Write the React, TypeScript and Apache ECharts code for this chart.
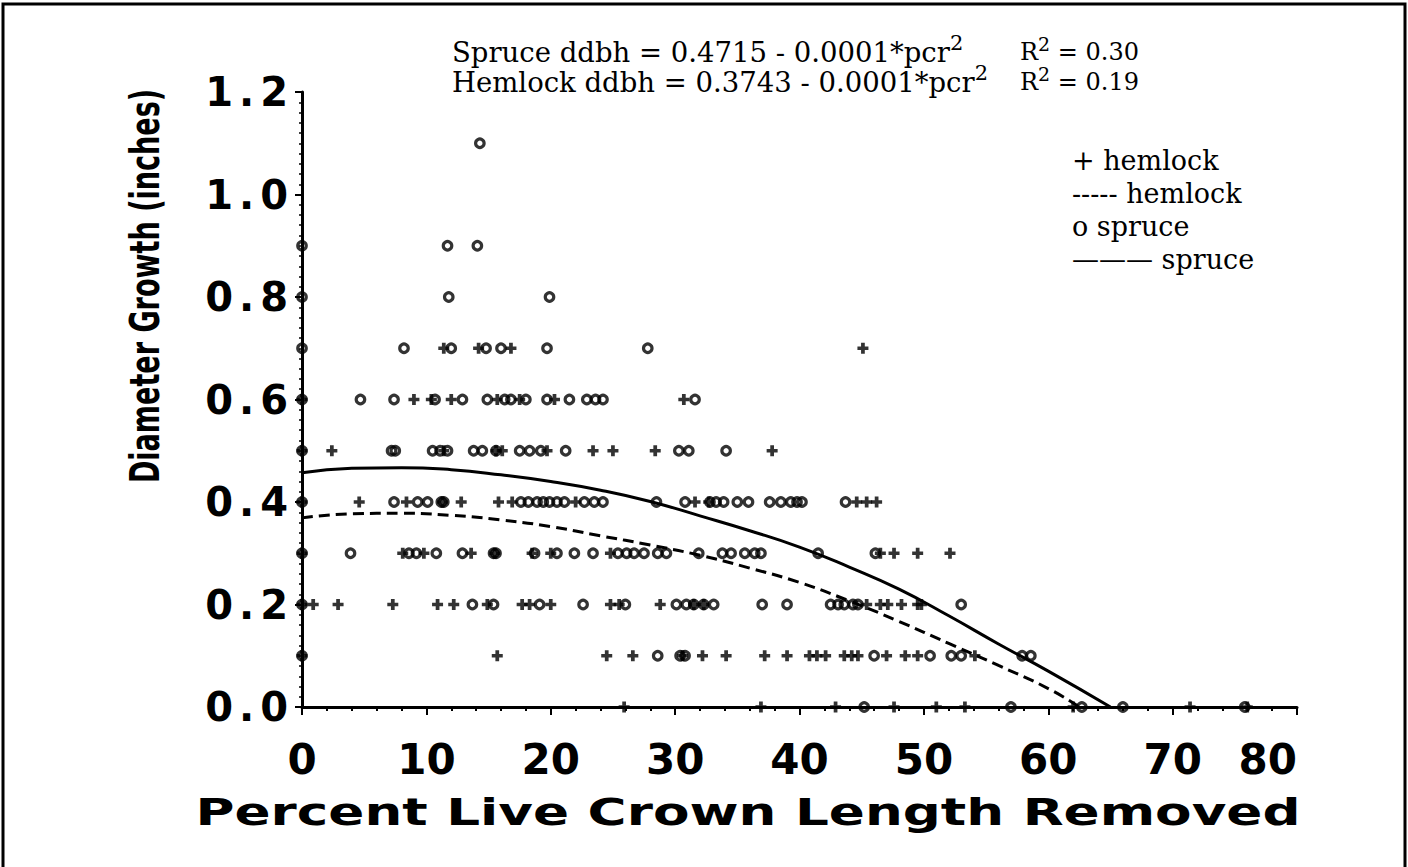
import React, { useEffect, useRef } from "react";
import * as echarts from "echarts";

// Percent live crown length removed (pcr) vs. diameter growth (inches)
const spruce: number[][] = [
  [14.3, 1.1],
  [0, 0.9], [11.7, 0.9], [14.1, 0.9],
  [0, 0.8], [11.8, 0.8], [19.9, 0.8],
  [0, 0.7], [8.2, 0.7], [12.0, 0.7], [14.8, 0.7], [16.0, 0.7], [19.7, 0.7], [27.8, 0.7],
  [0, 0.6], [4.7, 0.6], [7.4, 0.6], [10.7, 0.6], [12.9, 0.6], [14.9, 0.6], [16.3, 0.6], [16.8, 0.6],
  [18.0, 0.6], [19.7, 0.6], [21.5, 0.6], [22.9, 0.6], [23.6, 0.6], [24.2, 0.6], [31.6, 0.6],
  [0, 0.5], [7.2, 0.5], [7.5, 0.5], [10.5, 0.5], [11.1, 0.5], [11.7, 0.5], [13.8, 0.5], [14.5, 0.5],
  [15.6, 0.5], [17.5, 0.5], [18.3, 0.5], [19.2, 0.5], [21.2, 0.5], [30.3, 0.5], [31.1, 0.5], [34.1, 0.5],
  [0, 0.4], [7.4, 0.4], [9.3, 0.4], [10.1, 0.4], [11.2, 0.4], [11.4, 0.4], [17.6, 0.4], [18.2, 0.4],
  [18.9, 0.4], [19.4, 0.4], [19.9, 0.4], [20.5, 0.4], [21.1, 0.4], [22.7, 0.4], [23.5, 0.4], [24.2, 0.4],
  [28.5, 0.4], [30.8, 0.4], [32.8, 0.4], [33.3, 0.4], [33.9, 0.4], [35.0, 0.4], [35.9, 0.4], [37.6, 0.4],
  [38.5, 0.4], [39.3, 0.4], [39.8, 0.4], [40.2, 0.4], [43.7, 0.4],
  [0, 0.3], [3.9, 0.3], [8.6, 0.3], [9.2, 0.3], [10.8, 0.3], [12.9, 0.3], [15.4, 0.3], [15.6, 0.3],
  [18.7, 0.3], [20.5, 0.3], [21.9, 0.3], [23.4, 0.3], [25.4, 0.3], [26.1, 0.3], [26.7, 0.3], [27.5, 0.3],
  [28.6, 0.3], [29.3, 0.3], [31.9, 0.3], [33.8, 0.3], [34.5, 0.3], [35.6, 0.3], [36.4, 0.3], [36.9, 0.3],
  [41.5, 0.3], [46.1, 0.3],
  [0, 0.2], [13.7, 0.2], [15.4, 0.2], [19.1, 0.2], [22.6, 0.2], [26.0, 0.2], [30.1, 0.2], [30.9, 0.2],
  [31.5, 0.2], [32.3, 0.2], [33.1, 0.2], [37.0, 0.2], [39.0, 0.2], [42.5, 0.2], [43.1, 0.2], [43.6, 0.2],
  [44.3, 0.2], [44.7, 0.2], [53.0, 0.2],
  [0, 0.1], [28.6, 0.1], [30.4, 0.1], [30.8, 0.1], [46.0, 0.1], [50.5, 0.1], [52.2, 0.1], [53.0, 0.1],
  [57.9, 0.1], [58.6, 0.1],
  [45.2, 0], [57.0, 0], [62.7, 0], [66.0, 0], [75.8, 0],
];

const hemlock: number[][] = [
  [11.4, 0.7], [14.2, 0.7], [16.8, 0.7], [45.1, 0.7],
  [0, 0.6], [9.0, 0.6], [10.4, 0.6], [12.0, 0.6], [15.7, 0.6], [17.5, 0.6], [20.3, 0.6], [30.7, 0.6],
  [0, 0.5], [2.4, 0.5], [11.4, 0.5], [15.6, 0.5], [16.1, 0.5], [19.7, 0.5], [23.4, 0.5], [25.0, 0.5],
  [28.4, 0.5], [37.8, 0.5],
  [0, 0.4], [4.6, 0.4], [8.4, 0.4], [11.3, 0.4], [12.8, 0.4], [15.8, 0.4], [16.9, 0.4], [22.0, 0.4],
  [31.6, 0.4], [32.7, 0.4], [44.6, 0.4], [45.4, 0.4], [46.2, 0.4],
  [0, 0.3], [8.1, 0.3], [9.8, 0.3], [13.6, 0.3], [15.5, 0.3], [18.5, 0.3], [20.0, 0.3], [24.8, 0.3],
  [46.5, 0.3], [47.6, 0.3], [49.5, 0.3], [52.1, 0.3],
  [0, 0.2], [0.9, 0.2], [2.9, 0.2], [7.3, 0.2], [10.9, 0.2], [12.2, 0.2], [14.9, 0.2], [17.7, 0.2],
  [18.3, 0.2], [20.0, 0.2], [24.8, 0.2], [25.5, 0.2], [28.8, 0.2], [31.5, 0.2], [32.3, 0.2], [45.4, 0.2],
  [46.5, 0.2], [47.1, 0.2], [48.2, 0.2], [49.5, 0.2], [49.8, 0.2],
  [0, 0.1], [15.7, 0.1], [24.5, 0.1], [26.6, 0.1], [30.6, 0.1], [32.2, 0.1], [34.1, 0.1], [37.2, 0.1],
  [39.0, 0.1], [40.8, 0.1], [41.4, 0.1], [42.1, 0.1], [43.6, 0.1], [44.2, 0.1], [44.7, 0.1], [47.0, 0.1],
  [48.5, 0.1], [49.5, 0.1], [54.1, 0.1],
  [25.9, 0], [36.9, 0], [42.9, 0], [47.6, 0], [51.0, 0], [53.3, 0], [62.0, 0], [71.4, 0], [76.0, 0],
];

// Fitted quadratic curves
const spruceFit: number[][] = [
  [0, 0.457], [4, 0.466], [8, 0.467], [12, 0.463], [16, 0.453], [20, 0.44], [24, 0.423], [28, 0.401],
  [32, 0.373], [36, 0.344], [40, 0.312], [44, 0.273], [48, 0.23], [52, 0.178], [56, 0.123], [60, 0.07],
  [65, 0],
];
const hemlockFit: number[][] = [
  [0, 0.369], [4, 0.377], [8, 0.378], [12, 0.374], [16, 0.365], [20, 0.352], [24, 0.334], [28, 0.316],
  [32, 0.296], [36, 0.271], [40, 0.243], [44, 0.207], [48, 0.167], [52, 0.124], [56, 0.081], [60, 0.036],
  [62.5, 0],
];

const equations = [
  { label: "Spruce ddbh = 0.4715 - 0.0001*pcr", r2: "0.30" },
  { label: "Hemlock ddbh = 0.3743 - 0.0001*pcr", r2: "0.19" },
];
const legendLines = ["+ hemlock", "----- hemlock", "o spruce", "——— spruce"];
const xTitle = "Percent Live Crown Length Removed";
const yTitle = "Diameter Growth (inches)";

const PLUS = "path://M3.3,0H6.7V3.3H10V6.7H6.7V10H3.3V6.7H0V3.3H3.3Z";
const SERIF = "'DejaVu Serif', serif";
const HEAVY = "'DejaVu Sans', sans-serif";

export default function App() {
  const ref = useRef<HTMLDivElement>(null);

  useEffect(() => {
    if (!ref.current) return;
    const chart = echarts.init(ref.current, undefined, { renderer: "svg" });

    const richFor = (size: number) => ({
      n: { fontFamily: SERIF, fontSize: size, color: "#000", lineHeight: size + 12 },
      s: {
        fontFamily: SERIF,
        fontSize: Math.round(size * 0.78),
        color: "#000",
        verticalAlign: "top" as const,
        lineHeight: size + 12,
      },
    });

    const eqTexts = equations.flatMap((e, i) => [
      {
        type: "text",
        x: 452,
        y: 52 + i * 30,
        style: {
          text: `{n|${e.label}}{s|2}`,
          rich: richFor(27.5),
          verticalAlign: "middle",
        },
      },
      {
        type: "text",
        x: 1020,
        y: 52 + i * 30,
        style: {
          text: `{n|R}{s|2}{n| = ${e.r2}}`,
          rich: richFor(24),
          verticalAlign: "middle",
        },
      },
    ]);

    const legendTexts = legendLines.map((t, i) => ({
      type: "text",
      x: 1072,
      y: 160 + i * 33.3,
      style: { text: t, font: `27px ${SERIF}`, fill: "#000", verticalAlign: "middle" },
    }));

    chart.setOption({
      animation: false,
      backgroundColor: "#fff",
      grid: { left: 302, right: 111, top: 92, bottom: 160, containLabel: false },
      xAxis: {
        type: "value",
        min: 0,
        max: 80,
        interval: 10,
        axisLine: { lineStyle: { color: "#000", width: 3 } },
        axisTick: { show: true, length: 8, lineStyle: { color: "#000", width: 2 } },
        minorTick: { show: true, splitNumber: 5, length: 4, lineStyle: { color: "#000", width: 2 } },
        splitLine: { show: false },
        axisLabel: {
          fontFamily: HEAVY,
          fontWeight: "bold",
          fontSize: 42,
          color: "#000",
          margin: 31,
          alignMaxLabel: "right",
        },
      },
      yAxis: {
        type: "value",
        min: 0,
        max: 1.2,
        interval: 0.2,
        axisLine: { show: true, lineStyle: { color: "#000", width: 3 } },
        axisTick: { show: true, length: 7, lineStyle: { color: "#000", width: 2 } },
        minorTick: { show: true, splitNumber: 10, length: 3, lineStyle: { color: "#000", width: 1.5 } },
        splitLine: { show: false },
        axisLabel: {
          color: "#000",
          margin: 14,
          formatter: (v: number) => {
            const [a, b] = v.toFixed(1).split(".");
            return `{d|${a}}{p|.}{d|${b}}`;
          },
          rich: {
            d: { fontFamily: HEAVY, fontWeight: "bold", fontSize: 40, color: "#000" },
            p: { fontFamily: HEAVY, fontWeight: "bold", fontSize: 40, color: "#000", padding: [0, 6, 0, 6] },
          },
        },
      },
      series: [
        {
          name: "hemlock",
          type: "scatter",
          data: hemlock,
          symbol: PLUS,
          symbolSize: 11,
          itemStyle: { color: "#000" },
        },
        {
          name: "spruce",
          type: "scatter",
          data: spruce,
          symbol: "circle",
          symbolSize: 8.5,
          itemStyle: { color: "rgba(0,0,0,0)", borderColor: "#000", borderWidth: 3.2 },
        },
        {
          name: "hemlock fit",
          type: "line",
          data: hemlockFit,
          smooth: true,
          showSymbol: false,
          lineStyle: { color: "#000", width: 3, type: [11, 6] },
        },
        {
          name: "spruce fit",
          type: "line",
          data: spruceFit,
          smooth: true,
          showSymbol: false,
          lineStyle: { color: "#000", width: 3 },
        },
      ],
      graphic: [
        {
          type: "polyline",
          shape: { points: [[3, 870], [3, 4], [1405, 4], [1405, 870]] },
          style: { fill: "none", stroke: "#000", lineWidth: 3 },
          silent: true,
        },
        ...eqTexts,
        ...legendTexts,
        {
          type: "text",
          x: 145,
          y: 286,
          rotation: Math.PI / 2,
          scaleX: 0.66,
          style: {
            text: yTitle,
            font: `bold 41px ${HEAVY}`,
            fill: "#000",
            align: "center",
            verticalAlign: "middle",
          },
        },
        {
          type: "text",
          x: 748,
          y: 812,
          scaleX: 1.4,
          style: {
            text: xTitle,
            font: `bold 38px ${HEAVY}`,
            fill: "#000",
            align: "center",
            verticalAlign: "middle",
          },
        },
      ],
    });

    return () => chart.dispose();
  }, []);

  return (
    <div
      ref={ref}
      style={{ position: "fixed", left: 0, top: 0, width: 1408, height: 867, background: "#fff" }}
    />
  );
}
